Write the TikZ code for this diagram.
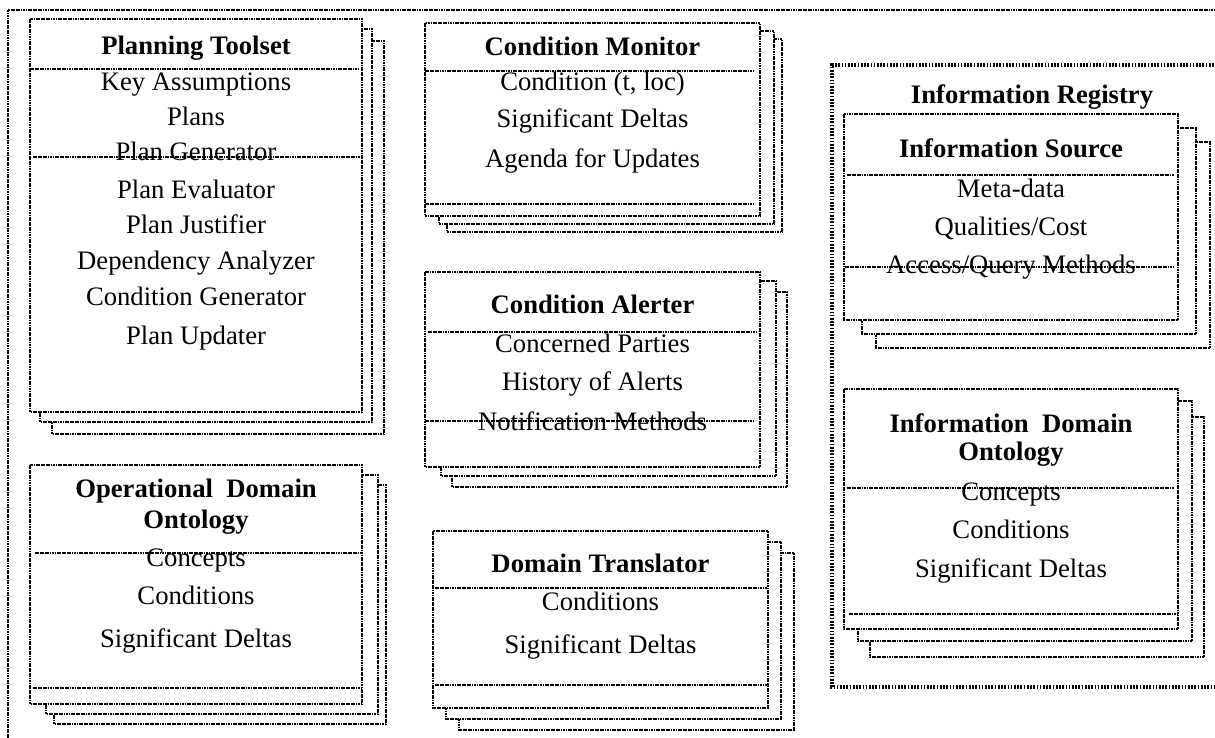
\documentclass[tikz,border=0pt]{standalone}
\usepackage{fontspec}
\setmainfont{Liberation Serif}
\begin{document}
\begin{tikzpicture}[x=0.45pt,y=-0.45pt,
  box/.style={draw=black, fill=white, line width=0.7pt, dash pattern=on 0.8pt off 0.3pt},
  sepline/.style={draw=black, line width=0.7pt, dash pattern=on 0.8pt off 0.3pt},
  regframe/.style={draw=black, line width=1.8pt, dash pattern=on 0.75pt off 0.7pt},
  item/.style={font=\fontsize{12}{14}\selectfont, inner sep=0pt, anchor=base},
  ttl/.style={font=\fontsize{12}{14}\selectfont\bfseries, inner sep=0pt, anchor=base}]
\newcommand\mystack[8]{%
  \draw[box] ({#1+#7},{#2+#8}) rectangle ({#3+#7},{#4+#8});
  \draw[box] ({#1+#5},{#2+#6}) rectangle ({#3+#5},{#4+#6});
  \draw[box] (#1,#2) rectangle (#3,#4);}
\useasboundingbox (0,0) rectangle (1215,737);
% outer frame
\draw[box, fill=none] (8,738) -- (8,10) -- (1216,10);
% information registry frame
\draw[regframe] (1217,65) -- (832,65) -- (832,687) -- (1217,687);
\node[ttl] (regtitle) at (1032,103) {Information Registry};

% Planning Toolset
\mystack{30}{19}{362}{412}{10}{10}{22}{22}
\draw[sepline] (30,69) -- (359,69);
\draw[sepline] (33,157) -- (362,157);
\node[ttl]  (pt0) at (196,54) {Planning Toolset};
\node[item] (pt1) at (196,90) {Key Assumptions};
\node[item] (pt2) at (196,125) {Plans};
\node[item] (pt3) at (196,160) {Plan Generator};
\node[item] (pt4) at (196,198) {Plan Evaluator};
\node[item] (pt5) at (196,233) {Plan Justifier};
\node[item] (pt6) at (196,269) {Dependency Analyzer};
\node[item] (pt7) at (196,305) {Condition Generator};
\node[item] (pt8) at (196,344) {Plan Updater};

% Operational Domain Ontology
\mystack{30}{465}{362}{704}{16}{10}{24}{20}
\draw[sepline] (35,553) -- (362,553);
\draw[sepline] (33,688) -- (362,688);
\node[ttl]  (odo0) at (196,497) {Operational\ \ Domain};
\node[ttl]  (odo1) at (196,528) {Ontology};
\node[item] (odo2) at (196,566) {Concepts};
\node[item] (odo3) at (196,604) {Conditions};
\node[item] (odo4) at (196,647) {Significant Deltas};

% Condition Monitor
\mystack{425}{23}{760}{216}{14}{8}{22}{16}
\draw[sepline] (425,71) -- (755,71);
\draw[sepline] (425,204) -- (755,204);
\node[ttl]  (cm0) at (592.5,55) {Condition Monitor};
\node[item] (cm1) at (592.5,90) {Condition (t, loc)};
\node[item] (cm2) at (592.5,127) {Significant Deltas};
\node[item] (cm3) at (592.5,167) {Agenda for Updates};

% Condition Alerter
\mystack{425}{272}{760}{467}{16}{9}{27}{20}
\draw[sepline] (428,332) -- (757,332);
\draw[sepline] (425,421) -- (755,421);
\node[ttl]  (ca0) at (592.5,313) {Condition Alerter};
\node[item] (ca1) at (592.5,352) {Concerned Parties};
\node[item] (ca2) at (592.5,390) {History of Alerts};
\node[item] (ca3) at (592.5,430) {Notification Methods};

% Domain Translator
\mystack{433}{531}{768}{708}{13}{11}{26}{22}
\draw[sepline] (435,588) -- (767,588);
\draw[sepline] (435,685) -- (767,685);
\node[ttl]  (dt0) at (600.5,572) {Domain Translator};
\node[item] (dt1) at (600.5,610) {Conditions};
\node[item] (dt2) at (600.5,653) {Significant Deltas};

% Information Source
\mystack{844}{114}{1178}{320}{18}{14}{32}{28}
\draw[sepline] (847,175) -- (1174,175);
\draw[sepline] (845,267) -- (1173,267);
\node[ttl]  (is0) at (1011,157) {Information Source};
\node[item] (is1) at (1011,197) {Meta-data};
\node[item] (is2) at (1011,235) {Qualities/Cost};
\node[item] (is3) at (1011,273) {Access/Query Methods};

% Information Domain Ontology
\mystack{844}{389}{1178}{629}{14}{12}{26}{28}
\draw[sepline] (847,488) -- (1174,488);
\draw[sepline] (849,614) -- (1177,614);
\node[ttl]  (ido0) at (1011,432) {Information\ \ Domain};
\node[ttl]  (ido1) at (1011,460) {Ontology};
\node[item] (ido2) at (1011,500) {Concepts};
\node[item] (ido3) at (1011,538) {Conditions};
\node[item] (ido4) at (1011,577) {Significant Deltas};
\end{tikzpicture}
\end{document}
